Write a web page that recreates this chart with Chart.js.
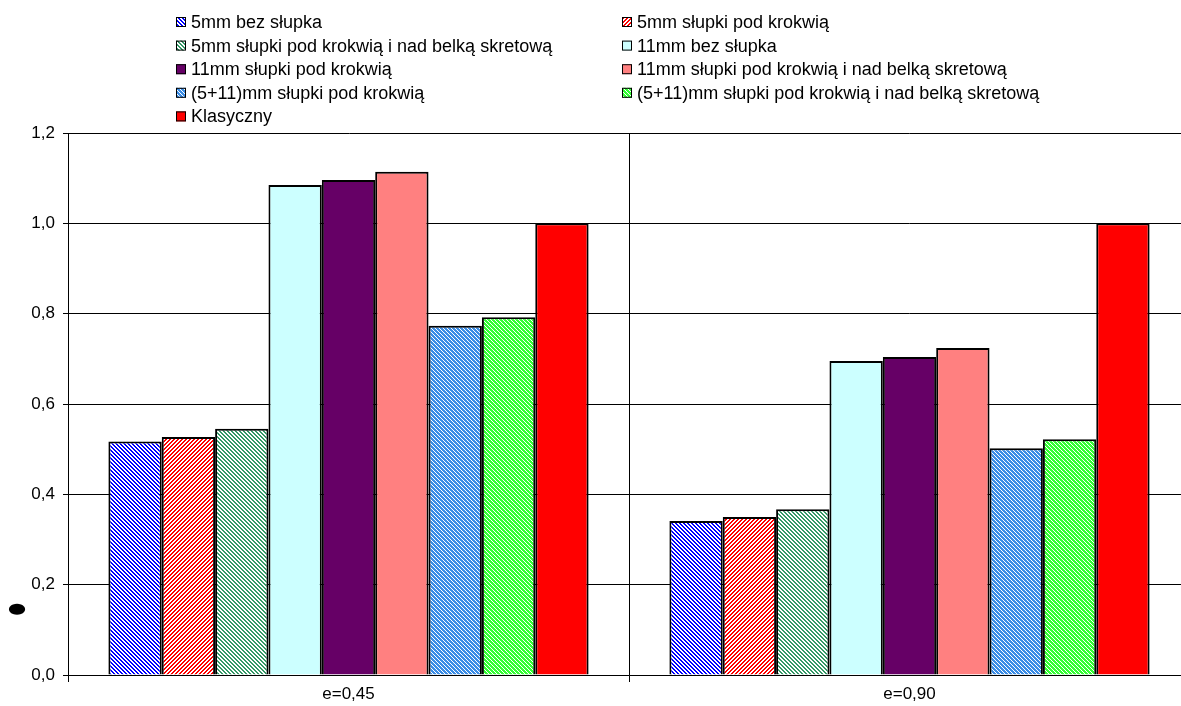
<!DOCTYPE html>
<html>
<head>
<meta charset="utf-8">
<script src="https://cdn.jsdelivr.net/npm/chart.js@4"></script>
<style>
  html, body { margin: 0; padding: 0; background: #fff; overflow: hidden; }
  canvas { display: block; }
</style>
</head>
<body>
<canvas id="c" width="1192" height="706"></canvas>
<script>
// Categories (load case) and series
const categories = ['e=0,45', 'e=0,90'];
const seriesNames = [
  '5mm bez słupka',
  '5mm słupki pod krokwią',
  '5mm słupki pod krokwią i nad belką skretową',
  '11mm bez słupka',
  '11mm słupki pod krokwią',
  '11mm słupki pod krokwią i nad belką skretową',
  '(5+11)mm słupki pod krokwią',
  '(5+11)mm słupki pod krokwią i nad belką skretową',
  'Klasyczny'
];
const s5mmBez        = [0.517, 0.341];
const s5mmPod        = [0.527, 0.350];
const s5mmPodNad     = [0.545, 0.367];
const s11mmBez       = [1.085, 0.695];
const s11mmPod       = [1.096, 0.704];
const s11mmPodNad    = [1.114, 0.724];
const s5p11Pod       = [0.773, 0.502];
const s5p11PodNad    = [0.792, 0.522];
const sKlasyczny     = [1.000, 1.000];
const yTickLabels = ['0,0', '0,2', '0,4', '0,6', '0,8', '1,0', '1,2'];

// Fill patterns
function makePattern(size, fg, test) {
  const c = document.createElement('canvas');
  c.width = size; c.height = size;
  const g = c.getContext('2d');
  g.fillStyle = '#fff';
  g.fillRect(0, 0, size, size);
  g.fillStyle = fg;
  for (let y = 0; y < size; y++) {
    for (let x = 0; x < size; x++) {
      if (test(x, y)) g.fillRect(x, y, 1, 1);
    }
  }
  return g.createPattern(c, 'repeat');
}
const ctx = document.getElementById('c').getContext('2d');
const down = (x, y) => ((x - y) % 4 + 4) % 4 < 2;   // "\\" stripes
const up = (x, y) => (x + y) % 4 < 2;               // "//" stripes
const fine = (x, y) => (x + y) % 2 === 0 || ((x - y) % 4 + 4) % 4 === 1;

const fills = [
  makePattern(8, '#0000ff', down),
  makePattern(8, '#ff0000', up),
  makePattern(8, '#339966', down),
  '#ccffff',
  '#660066',
  '#ff8080',
  makePattern(8, '#3b8de6', fine),
  makePattern(8, '#33ff33', fine),
  '#ff0000'
];
const values = [s5mmBez, s5mmPod, s5mmPodNad, s11mmBez, s11mmPod, s11mmPodNad, s5p11Pod, s5p11PodNad, sKlasyczny];

const datasets = seriesNames.map((name, i) => ({
  label: name,
  data: values[i],
  backgroundColor: fills[i],
  borderColor: '#000',
  borderWidth: 2,
  borderSkipped: 'bottom',
  barPercentage: 1.0,
  categoryPercentage: 0.856
}));

const FONT = 'Liberation Sans, Arial, sans-serif';

// Two-column legend above the plot
const gridLegend = {
  id: 'gridLegend',
  afterDraw(chart) {
    const c = chart.ctx;
    const ds = chart.data.datasets;
    const colX = [176, 622];
    const rowY0 = 22, rowH = 23.6, box = 10;
    c.save();
    c.font = '18px ' + FONT;
    c.textBaseline = 'middle';
    c.textAlign = 'left';
    ds.forEach((d, i) => {
      const x = colX[i % 2];
      const y = rowY0 + Math.floor(i / 2) * rowH;
      c.fillStyle = d.backgroundColor;
      c.fillRect(x, y - box / 2, box, box);
      c.strokeStyle = '#000';
      c.lineWidth = 1;
      c.strokeRect(x + 0.5, y - box / 2 + 0.5, box - 1, box - 1);
      c.fillStyle = '#000';
      c.fillText(d.label, x + box + 5, y + 1);
    });
    c.restore();
  }
};

// Small y-axis title glyph
const yGlyph = {
  id: 'yGlyph',
  afterDraw(chart) {
    const c = chart.ctx;
    const a = chart.chartArea;
    c.save();
    c.translate(a.left - 51, a.bottom - 66);
    c.scale(1.25, 0.85);
    c.font = 'bold 17px DejaVu Sans, sans-serif';
    c.fillStyle = '#000';
    c.textAlign = 'center';
    c.textBaseline = 'middle';
    c.fillText('●', 0, 0);
    c.restore();
  }
};

new Chart(ctx, {
  type: 'bar',
  data: { labels: categories, datasets },
  plugins: [gridLegend, yGlyph],
  options: {
    responsive: false,
    animation: false,
    events: [],
    layout: { padding: { top: 133, left: 0, right: 2, bottom: 0 } },
    plugins: {
      legend: { display: false },
      tooltip: { enabled: false },
      title: { display: false }
    },
    scales: {
      x: {
        offset: true,
        grid: {
          display: true,
          offset: true,
          color: '#000',
          lineWidth: 1,
          tickLength: 7,
          drawOnChartArea: true
        },
        border: { display: true, color: '#000', width: 1 },
        ticks: {
          color: '#000',
          font: { family: FONT, size: 17 },
          padding: 2,
          maxRotation: 0
        },
        afterFit(scale) { scale.height = 31; }
      },
      y: {
        min: 0,
        max: 1.2,
        ticks: {
          stepSize: 0.2,
          color: '#000',
          font: { family: FONT, size: 17 },
          padding: 8,
          callback: (v, i) => yTickLabels[i]
        },
        grid: { color: '#000', lineWidth: 1, tickLength: 5 },
        border: { display: true, color: '#000', width: 1 },
        afterFit(scale) { scale.width = 68; }
      }
    }
  }
});
</script>
</body>
</html>
